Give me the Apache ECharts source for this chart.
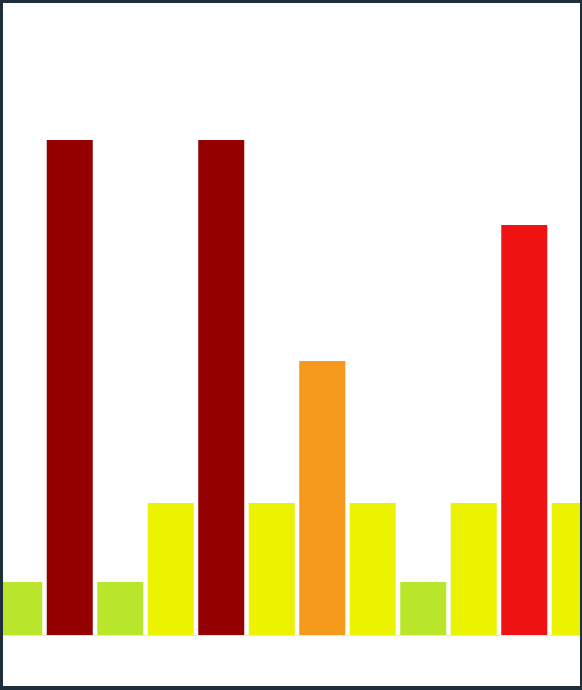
<!DOCTYPE html>
<html>
<head>
<meta charset="utf-8">
<script src="https://cdn.jsdelivr.net/npm/echarts@6/dist/echarts.min.js"></script>
<style>
  html, body { margin: 0; padding: 0; background: #ffffff; }
  #frame { position: relative; width: 582px; height: 690px; box-sizing: border-box;
           border-style: solid; border-color: #1e2e3b;
           border-width: 3px 2px 4px 3px; overflow: hidden; background: #fff; }
  #chart { position: absolute; left: -9px; top: 0; width: 606px; height: 683px; }
</style>
</head>
<body>
<div id="frame"><div id="chart"></div></div>
<script>
const categories = ['1', '2', '3', '4', '5', '6', '7', '8', '9', '10', '11', '12'];
const values = [53, 495, 53, 132, 495, 132, 274, 132, 53, 132, 410, 132];
const levelBreaks = [0, 100, 200, 350, 450, 600];
const levelColors = ['#b9e62a', '#ebf300', '#f4991c', '#ee1212', '#940000'];

const pieces = levelColors.map((c, i) => ({ gte: levelBreaks[i], lt: levelBreaks[i + 1], color: c }));

const chart = echarts.init(document.getElementById('chart'), null, { renderer: 'canvas' });
chart.setOption({
  animation: false,
  backgroundColor: '#ffffff',
  grid: { left: 0, right: 0, top: 132, bottom: 51 },
  visualMap: { show: false, type: 'piecewise', dimension: 1, pieces: pieces },
  xAxis: {
    type: 'category',
    data: categories,
    axisLine: { show: true, lineStyle: { color: '#e4e4f4', width: 1 } },
    axisTick: { show: false },
    axisLabel: { show: false }
  },
  yAxis: {
    type: 'value', min: 0, max: 500,
    axisLine: { show: false }, axisTick: { show: false },
    axisLabel: { show: false }, splitLine: { show: false }
  },
  series: [{
    type: 'bar',
    data: values,
    barWidth: 46
  }]
});
</script>
</body>
</html>
